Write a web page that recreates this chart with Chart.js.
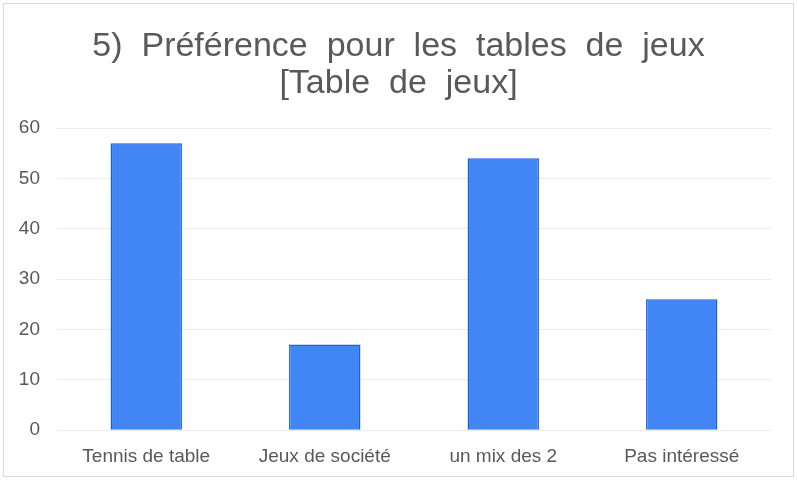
<!DOCTYPE html>
<html>
<head>
<meta charset="utf-8">
<script src="https://cdn.jsdelivr.net/npm/chart.js@4"></script>
<style>
  body { margin: 0; background: #fff; }
  #box { position: absolute; left: 3px; top: 3px; width: 789px; height: 472px; border: 1px solid #d9d9d9; }
</style>
</head>
<body>
<div id="box"><canvas id="myChart" width="789" height="472"></canvas></div>
<script>
let categories = ['Tennis de table', 'Jeux de société', 'un mix des 2', 'Pas intéressé'];
let valeurs = [57, 17, 54, 26];
// le titre original a des espaces larges entre les mots
let titre = ['5)  Préférence  pour  les  tables  de  jeux', '[Table  de  jeux]'];

let ctx = document.getElementById('myChart').getContext('2d');
let myChart = new Chart(ctx, {
    type: 'bar',
    data: {
        labels: categories,
        datasets: [{
            data: valeurs,
            backgroundColor: '#4285f4',
            borderColor: '#1a5ee6',
            borderWidth: 1.5,
            categoryPercentage: 1,
            barPercentage: 0.4
        }]
    },
    options: {
        responsive: false,
        animation: false,
        layout: { padding: { left: 0, right: 0, top: 0, bottom: 1 } },
        plugins: {
            legend: { display: false },
            tooltip: { enabled: false },
            title: {
                display: true,
                text: titre,
                color: '#595959',
                font: { family: 'Liberation Sans', size: 34, weight: 'normal', lineHeight: 1.09 },
                padding: { top: 24, bottom: 26 }
            }
        },
        scales: {
            x: {
                grid: { display: false },
                border: { display: false },
                ticks: { color: '#595959', font: { family: 'Liberation Sans', size: 19 }, padding: 7 }
            },
            y: {
                min: 0,
                max: 60,
                afterFit(scale) { scale.width = 53; },
                ticks: { stepSize: 10, color: '#595959', font: { family: 'Liberation Sans', size: 19 }, padding: 17 },
                grid: { color: '#ececec', drawTicks: false },
                border: { display: false }
            },
            // axe vide à droite, juste pour la marge (garde le titre centré)
            marge: {
                type: 'linear',
                position: 'right',
                afterFit(scale) { scale.width = 22; },
                ticks: { display: false },
                grid: { display: false },
                border: { display: false }
            }
        }
    }
});
</script>
</body>
</html>
